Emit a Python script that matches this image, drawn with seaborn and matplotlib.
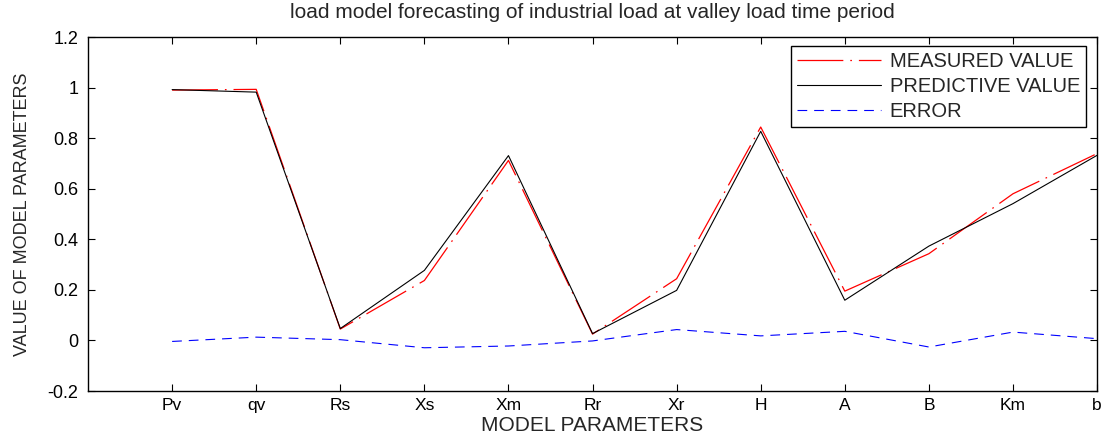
import numpy as np
import pandas as pd
import matplotlib
matplotlib.use("Agg")
import matplotlib.pyplot as plt
import seaborn as sns

categories = ["Pv", "qv", "Rs", "Xs", "Xm", "Rr", "Xr", "H", "A", "B", "Km", "b"]
measured = [0.990, 0.993, 0.045, 0.237, 0.712, 0.025, 0.244, 0.844, 0.195, 0.343, 0.580, 0.739]
predictive = [0.992, 0.982, 0.047, 0.277, 0.731, 0.027, 0.198, 0.827, 0.159, 0.373, 0.541, 0.732]
error = [-0.004, 0.013, 0.003, -0.029, -0.022, -0.002, 0.043, 0.018, 0.036, -0.026, 0.033, 0.007]
yticks = [-0.2, 0, 0.2, 0.4, 0.6, 0.8, 1.0, 1.2]
ytick_labels = ["-0.2", "0", "0.2", "0.4", "0.6", "0.8", "1", "1.2"]

sns.set_theme(style="white")
plt.rcParams["font.family"] = ["Liberation Sans", "DejaVu Sans"]
plt.rcParams["lines.scale_dashes"] = False

pos = np.arange(1, len(categories) + 1)
df = pd.DataFrame({"pos": pos, "measured": measured, "predictive": predictive, "error": error})

fig = plt.figure(figsize=(11.02, 4.38), dpi=100)
ax = fig.add_axes([0.0799, 0.1073, 0.9156, 0.8082])

sns.lineplot(data=df, x="pos", y="measured", ax=ax, color="#ff0000", linewidth=0.9,
             label="MEASURED VALUE")
ax.lines[-1].set_dashes((33, 5, 1.2, 5))
sns.lineplot(data=df, x="pos", y="predictive", ax=ax, color="black", linewidth=0.8,
             label="PREDICTIVE VALUE")
sns.lineplot(data=df, x="pos", y="error", ax=ax, color="#0000ff", linewidth=0.8,
             label="ERROR")
ax.lines[-1].set_dashes((7, 5))

ax.set_xlim(0, len(categories))
ax.set_ylim(-0.2, 1.2)
ax.set_xticks(pos)
ax.set_xticklabels(categories, fontsize=12.5)
ax.set_yticks(yticks)
ax.set_yticklabels(ytick_labels, fontsize=13)
ax.tick_params(direction="in", length=5, width=0.8, top=True, right=True,
               bottom=True, left=True, colors="black", pad=7)
ax.tick_params(axis="x", labeltop=False, pad=5)
for s in ax.spines.values():
    s.set_color("black")
    s.set_linewidth(1.0)

ax.set_xlabel("MODEL PARAMETERS", fontsize=15, labelpad=2)
ax.set_ylabel("VALUE OF MODEL PARAMETERS", fontsize=13, labelpad=12)
ax.set_title("load model forecasting of industrial load at valley load time period",
             fontsize=15, pad=14)

leg = ax.legend(loc="upper right", fontsize=14.5, frameon=True, fancybox=False,
                handlelength=4.2, handletextpad=0.4, borderpad=0.3, labelspacing=0.3,
                borderaxespad=0, bbox_to_anchor=(0.989, 0.975))
leg.get_frame().set_edgecolor("black")
leg.get_frame().set_linewidth(1.0)
leg.get_frame().set_alpha(1)

fig.savefig("out.png", dpi=100)
